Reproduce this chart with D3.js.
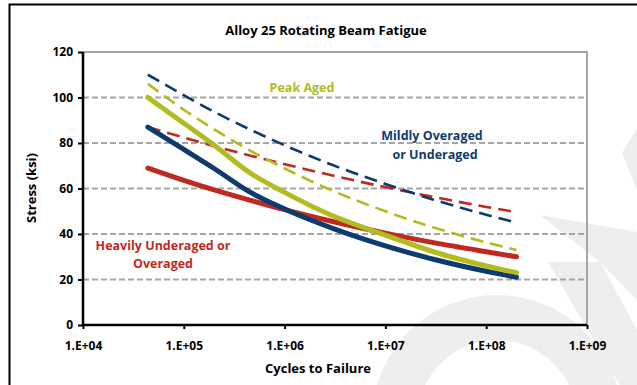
<!DOCTYPE html>
<html>
<head>
<meta charset="utf-8">
<script src="https://cdn.jsdelivr.net/npm/d3@7"></script>
<style>
  html, body { margin: 0; padding: 0; background: #fff; }
  svg { display: block; }
  text { font-family: "Open Sans", Lato, sans-serif; font-weight: 700; }
</style>
</head>
<body>
<svg id="chart" width="637" height="385"></svg>
<script>
// ---- data ----
const cycles = [44000, 100000, 200000, 450000, 1000000, 3000000, 10000000, 30000000, 100000000, 200000000];

const peakSolid   = [100, 88.7, 79, 67, 58.3, 48, 39.5, 32.2, 26, 23];
const peakDashed  = [106, 94.6, 86, 76.8, 68.8, 59, 50, 42.9, 36.3, 33];
const mildSolid   = [87, 77.2, 68.8, 58.5, 51, 42.5, 34.8, 28.9, 23.6, 21];
const mildDashed  = [110, 101, 93.7, 86, 79, 70.3, 62, 55.1, 48.5, 45];
const heavySolid  = [69, 63.6, 59.4, 54.9, 50.7, 45.5, 40.4, 36.2, 32.2, 30];
const heavyDashed = [87, 82.4, 78.6, 74.5, 70.7, 65.7, 60.6, 56.3, 51.9, 49.6];

const yTicks = [0, 20, 40, 60, 80, 100, 120];
const xTicks = [1e4, 1e5, 1e6, 1e7, 1e8, 1e9];
const xTickLabels = ["1.E+04", "1.E+05", "1.E+06", "1.E+07", "1.E+08", "1.E+09"];

const title = "Alloy 25 Rotating Beam Fatigue";
const xTitle = "Cycles to Failure";
const yTitle = "Stress (ksi)";

const colBlue = "#0d3b6e", colGreen = "#b2bb20", colRed = "#c0291f";

// ---- chart ----
const svg = d3.select("#chart");

// watermark (faint background logo)
const wm = svg.append("g").attr("fill", "#eeeeee");
wm.append("path").attr("d", d3.arc()({innerRadius: 80, outerRadius: 125, startAngle: -1.75, endAngle: 1.9})).attr("transform", "translate(497,420)");
wm.append("path").attr("d", "M540,215 L637,232 L637,300 L600,262 Z");
wm.append("path").attr("d", "M548,262 L600,262 L637,330 L637,385 L620,385 Z");
wm.append("path").attr("d", "M622,153 L637,128 L637,190 Z");

// outer frame
svg.append("rect").attr("x", 9.5).attr("y", 4.5).attr("width", 700).attr("height", 500)
  .attr("fill", "none").attr("stroke", "#000").attr("stroke-width", 2);

const x = d3.scaleLog().domain([1e4, 1e9]).range([83, 587]);
const y = d3.scaleLinear().domain([0, 120]).range([325, 52]);

// gridlines
svg.append("g").selectAll("line").data(yTicks.filter(d => d > 0 && d < 120)).join("line")
  .attr("x1", x(1e4)).attr("x2", x(1e9)).attr("y1", d => y(d)).attr("y2", d => y(d))
  .attr("stroke", "#a6a6a6").attr("stroke-width", 2).attr("stroke-dasharray", "6,3");
// plot border (top + right)
svg.append("path")
  .attr("d", `M${x(1e4)},${y(120)} H${x(1e9)} V${y(0)}`)
  .attr("fill", "none").attr("stroke", "#a6a6a6").attr("stroke-width", 2);

// series
const line = d3.line().x(d => x(d[0])).y(d => y(d[1])).curve(d3.curveMonotoneX);
const series = [
  {v: heavyDashed, c: colRed,   w: 2.6, dash: "13,7"},
  {v: mildDashed,  c: colBlue,  w: 2.6, dash: "13,7"},
  {v: peakDashed,  c: colGreen, w: 2.6, dash: "13,7"},
  {v: heavySolid,  c: colRed,   w: 5,   dash: null},
  {v: mildSolid,   c: colBlue,  w: 5,   dash: null},
  {v: peakSolid,   c: colGreen, w: 5,   dash: null}
];
svg.append("g").selectAll("path").data(series).join("path")
  .attr("d", s => line(cycles.map((c, i) => [c, s.v[i]])))
  .attr("fill", "none").attr("stroke", s => s.c).attr("stroke-width", s => s.w)
  .attr("stroke-linecap", s => s.dash ? "butt" : "round")
  .attr("stroke-dasharray", s => s.dash);

// axes
const yAxis = d3.axisLeft(y).tickValues(yTicks).tickSize(5).tickPadding(5);
const gy = svg.append("g").attr("transform", `translate(${x(1e4)},0)`).call(yAxis);
gy.select(".domain").attr("stroke", "#000").attr("stroke-width", 2.5).attr("d", `M0,${y(120)}V${y(0)}`);
gy.selectAll(".tick line").attr("stroke", "#000").attr("stroke-width", 2);
gy.selectAll(".tick text").attr("font-size", 12).attr("font-weight", 700).attr("fill", "#000")
  .attr("font-family", "'Open Sans', sans-serif");

const xAxis = d3.axisBottom(x).tickValues(xTicks).tickFormat((d, i) => xTickLabels[i]).tickSize(4).tickPadding(12);
const gx = svg.append("g").attr("transform", `translate(0,${y(0)})`).call(xAxis);
gx.select(".domain").attr("stroke", "#000").attr("stroke-width", 2.5).attr("d", `M${x(1e4)},0H${x(1e9)}`);
gx.selectAll(".tick line").attr("stroke", "#000").attr("stroke-width", 2);
gx.selectAll(".tick text").attr("font-size", 12).attr("font-weight", 700).attr("fill", "#000")
  .attr("font-family", "'Open Sans', sans-serif");

// titles
svg.append("text").attr("x", 326).attr("y", 35).attr("text-anchor", "middle")
  .attr("font-size", 13).text(title);
svg.append("text").attr("x", 318).attr("y", 373).attr("text-anchor", "middle")
  .attr("font-size", 13).text(xTitle);
svg.append("text").attr("transform", "translate(36,188) rotate(-90)").attr("text-anchor", "middle")
  .attr("font-size", 13).text(yTitle);

// series labels
const lbl = (t, xx, yy, c) => svg.append("text").attr("x", xx).attr("y", yy).attr("text-anchor", "middle")
  .attr("font-size", 12.5).attr("fill", c).text(t);
lbl("Peak Aged", 302, 92, colGreen);
lbl("Mildly Overaged", 432, 140, colBlue);
lbl("or Underaged", 435, 159, colBlue);
lbl("Heavily Underaged or", 163, 250, colRed);
lbl("Overaged", 163, 268, colRed);
</script>
</body>
</html>
